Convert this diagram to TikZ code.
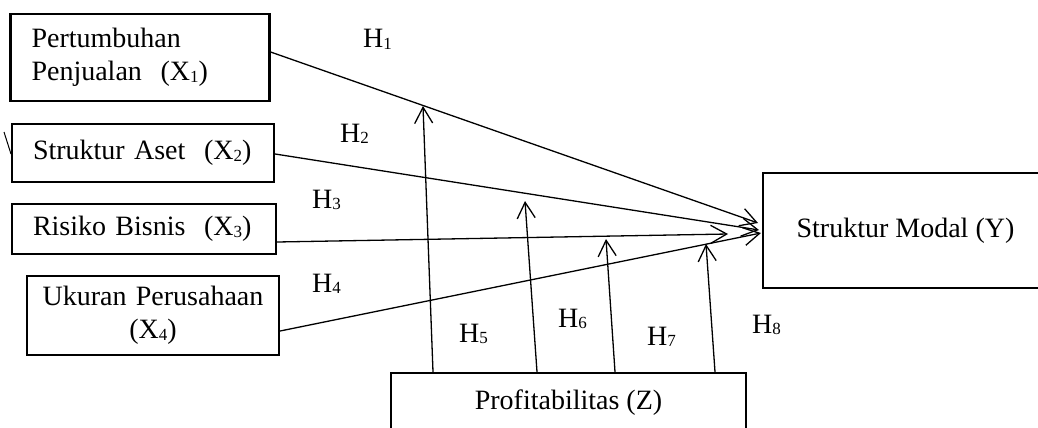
\documentclass[tikz,border=0pt]{standalone}
\usepackage{fontspec}
\setmainfont{Liberation Serif}
\usetikzlibrary{arrows.meta}
\newcommand{\varfont}{\fontsize{28}{33}\selectfont}
\newcommand{\idx}[1]{\raisebox{-1.5pt}{\fontsize{17}{17}\selectfont #1}}

\begin{document}
\begin{tikzpicture}[
    x=1pt, y=-1pt,
    box/.style = {draw, line width=2.2pt, inner xsep=21pt, inner ysep=0pt,
      align=left, font=\varfont},
    arr/.style = {-{Straight Barb[length=16pt,width=18pt]}, line width=1.3pt},
    hyp/.style = {anchor=base west, inner sep=0pt, font=\varfont},
  ]
  \useasboundingbox (0,0) rectangle (1038,428);

  % Independent variables
  \node[box, text width=217pt, minimum height=87pt] (x1) at (140,57.5) {Pertumbuhan\\Penjualan\ \ (X\idx{1})};
  \node[box, text width=220pt, minimum height=58pt] (x2) at (143,153)  {Struktur Aset\ \ (X\idx{2})};
  \node[box, text width=222pt, minimum height=50pt] (x3) at (144,229)  {Risiko Bisnis\ \ (X\idx{3})};
  \node[box, text width=240pt, inner xsep=6pt, minimum height=79pt, align=center] (x4) at (153,315.5) {Ukuran Perusahaan\\(X\idx{4})};

  % Dependent and moderating variable
  \node[box, minimum width=285pt, minimum height=115pt, align=center] (y) at (905.5,230.5) {Struktur Modal (Y)};
  \node[box, minimum width=355pt, minimum height=59pt, align=center] (z) at (568.5,402.5) {Profitabilitas (Z)};

  % Arrow ends
  \coordinate (t1) at (758,223);
  \coordinate (t2) at (759,230);
  \coordinate (t3) at (728,234);
  \coordinate (t4) at (761,233);
  \coordinate (m5) at (423,106);
  \coordinate (m6) at (525,201);
  \coordinate (m7) at (606,239);
  \coordinate (m8) at (706,244);

  % Direct effects
  \draw[arr] ([yshift=5.5pt]x1.east)  -- (t1);
  \draw[arr] ([yshift=-1pt]x2.east)   -- (t2);
  \draw[arr] ([yshift=-13pt]x3.east)  -- (t3);
  \draw[arr] ([yshift=-15.5pt]x4.east) -- (t4);

  % Moderation
  \draw[arr] ([xshift=-135.5pt]z.north) -- (m5);
  \draw[arr] ([xshift=-31.5pt]z.north)  -- (m6);
  \draw[arr] ([xshift=46.5pt]z.north)   -- (m7);
  \draw[arr] ([xshift=146.5pt]z.north)  -- (m8);

  % stray mark left of X2
  \draw[line width=1pt] (4,132) -- (11,154);

  % Labels
  \node[hyp] (h1) at (363,48)  {H\idx{1}};
  \node[hyp] (h2) at (340,142) {H\idx{2}};
  \node[hyp] (h3) at (312,208) {H\idx{3}};
  \node[hyp] (h4) at (312,292) {H\idx{4}};
  \node[hyp] (h5) at (459,342) {H\idx{5}};
  \node[hyp] (h6) at (558,327) {H\idx{6}};
  \node[hyp] (h7) at (647,345) {H\idx{7}};
  \node[hyp] (h8) at (752,333) {H\idx{8}};
\end{tikzpicture}
\end{document}
